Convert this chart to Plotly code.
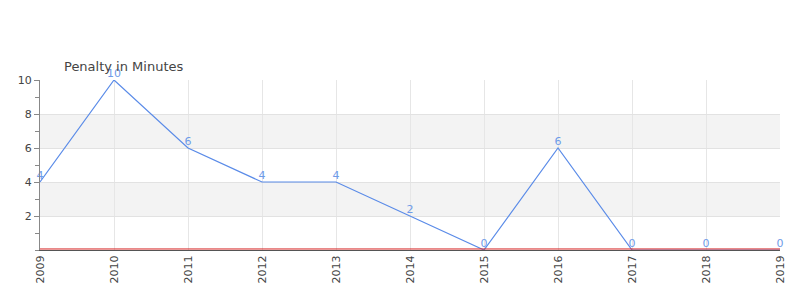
import plotly.graph_objects as go

years = [2009, 2010, 2011, 2012, 2013, 2014, 2015, 2016, 2017, 2018, 2019]
penalty = [4, 10, 6, 4, 4, 2, 0, 6, 0, 0, 0]
title_text = "Penalty in Minutes"

line_color = "#5a8be8"

fig = go.Figure()
fig.add_trace(go.Scatter(
    x=years, y=penalty, mode="lines+text",
    text=[str(v) for v in penalty], textposition="top center",
    textfont=dict(color="#6f9be8", size=11, family="DejaVu Sans"),
    line=dict(color=line_color, width=1.2),
    cliponaxis=False, showlegend=False,
))

for y0, y1 in [(2, 4), (6, 8)]:
    fig.add_shape(type="rect", xref="paper", yref="y", x0=0, x1=1, y0=y0, y1=y1,
                  fillcolor="#f3f3f3", line=dict(width=0), layer="below")

fig.add_shape(type="line", xref="paper", yref="paper", x0=0, x1=1, y0=0.006, y1=0.006,
              line=dict(color="#d62020", width=1), layer="above")

fig.add_annotation(text=title_text, xref="paper", yref="paper", x=0.03, y=1,
                   xanchor="left", yanchor="bottom", yshift=4, showarrow=False,
                   font=dict(size=13, color="#444", family="DejaVu Sans"))

fig.update_layout(
    width=800, height=300,
    margin=dict(l=40, r=20, t=80, b=50),
    paper_bgcolor="white", plot_bgcolor="white",
    font=dict(family="DejaVu Sans", size=11, color="#444"),
)
fig.update_xaxes(
    range=[2009, 2019], tickvals=years, ticktext=[str(y) for y in years],
    tickangle=-90, showgrid=True, gridcolor="#e6e6e6", zeroline=False,
    showline=True, linecolor="#555", linewidth=1, ticks="",
    tickfont=dict(size=11, color="#444"),
)
fig.update_yaxes(
    range=[0, 10], tickvals=[2, 4, 6, 8, 10], showgrid=True, gridcolor="#e2e2e2",
    zeroline=False, showline=True, linecolor="#888", linewidth=1,
    ticks="outside", ticklen=5, tickcolor="#888",
    minor=dict(dtick=1, ticks="outside", ticklen=4, tickcolor="#888", showgrid=False),
    tickfont=dict(size=11, color="#444"),
)

fig.write_html("out.html")
